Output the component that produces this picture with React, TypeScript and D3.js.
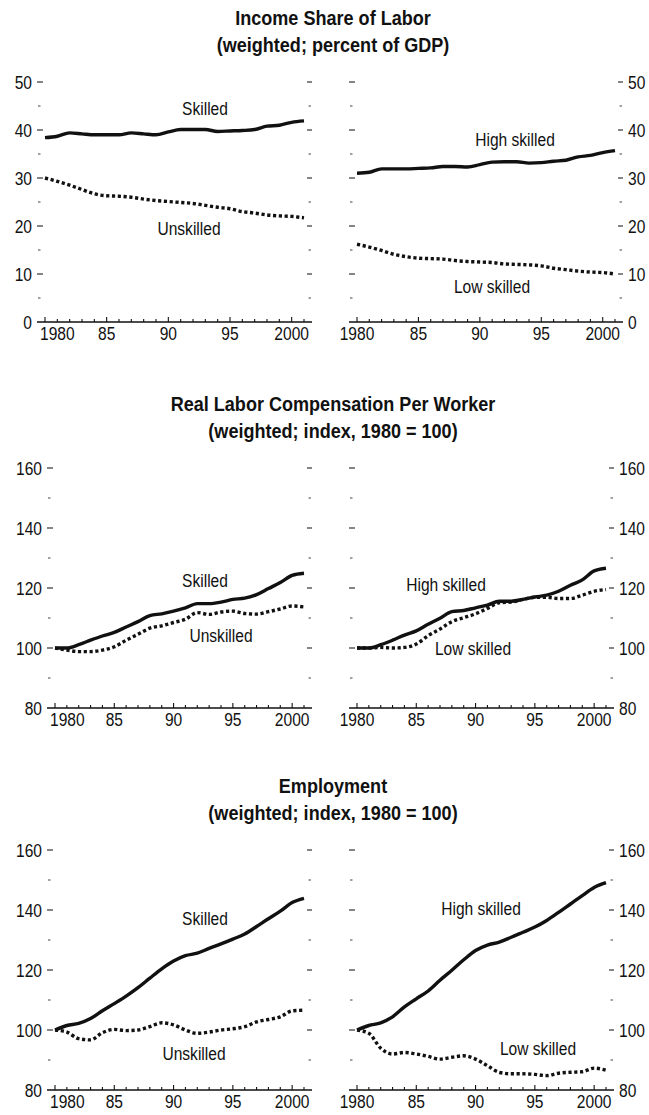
import * as d3 from "d3";
import React from "react";

const years = d3.range(1980, 2002);

// Income share of labor (percent of GDP)
const shareSkilled = [38.4, 38.7, 39.4, 39.2, 39.0, 39.0, 39.0, 39.4, 39.2, 39.0, 39.6, 40.1, 40.1, 40.1, 39.7, 39.8, 39.9, 40.1, 40.8, 41.0, 41.6, 41.9];
const shareUnskilled = [30.0, 29.3, 28.5, 27.6, 26.7, 26.3, 26.2, 26.0, 25.6, 25.3, 25.1, 24.9, 24.7, 24.3, 23.9, 23.6, 23.0, 22.7, 22.3, 22.1, 22.0, 21.7];
const shareHigh = [31.0, 31.2, 31.9, 31.9, 31.9, 32.0, 32.1, 32.4, 32.4, 32.3, 32.8, 33.3, 33.4, 33.4, 33.1, 33.2, 33.5, 33.7, 34.4, 34.7, 35.3, 35.7];
const shareLow = [16.2, 15.6, 14.9, 14.1, 13.6, 13.3, 13.2, 13.1, 12.8, 12.6, 12.5, 12.4, 12.1, 12.0, 11.9, 11.7, 11.2, 10.9, 10.6, 10.4, 10.3, 10.0];

// Real labor compensation per worker (1980 = 100)
const compSkilled = [100, 100, 101.1, 102.6, 104.0, 105.2, 107.0, 108.8, 110.8, 111.4, 112.3, 113.4, 114.8, 114.8, 115.3, 116.2, 116.6, 117.8, 119.8, 121.8, 124.2, 124.9];
const compUnskilled = [100, 99.3, 98.8, 98.8, 99.3, 100.4, 102.6, 104.6, 106.6, 107.4, 108.5, 109.6, 111.8, 111.2, 112.0, 112.3, 111.5, 111.3, 112.1, 113.0, 114.0, 113.7];
const compHigh = [100, 100, 101.1, 102.6, 104.3, 105.7, 107.9, 109.9, 112.1, 112.5, 113.4, 114.3, 115.6, 115.6, 116.2, 117.0, 117.6, 118.9, 120.9, 122.7, 125.7, 126.6];
const compLow = [100, 100, 100.2, 100, 100.2, 101.3, 104.1, 106.3, 108.8, 110.1, 111.4, 113.2, 115.1, 115.3, 116.2, 116.9, 116.9, 116.5, 116.5, 117.6, 118.9, 119.5];

// Employment (1980 = 100)
const empSkilled = [100, 101.5, 102.2, 103.8, 106.4, 108.8, 111.3, 114.1, 117.3, 120.4, 123.0, 124.8, 125.6, 127.2, 128.7, 130.3, 132.0, 134.5, 137.1, 139.6, 142.5, 143.9];
const empUnskilled = [100, 99.3, 97.1, 96.7, 99.1, 100.2, 99.8, 100, 101.1, 102.4, 101.7, 100, 98.9, 99.3, 100, 100.4, 101.1, 102.7, 103.5, 104.4, 106.4, 106.6];
const empHigh = [100, 101.5, 102.4, 104.4, 107.7, 110.4, 113.0, 116.6, 119.9, 123.4, 126.5, 128.3, 129.3, 130.9, 132.6, 134.3, 136.5, 139.2, 142.0, 144.8, 147.5, 149.1];
const empLow = [100, 98.9, 93.9, 92.0, 92.5, 92.0, 91.2, 90.3, 90.9, 91.4, 90.3, 88.1, 85.9, 85.4, 85.4, 85.2, 84.8, 85.6, 85.9, 86.1, 87.3, 86.6];

const titles = [
  ["Income Share of Labor", "(weighted; percent of GDP)"],
  ["Real Labor Compensation Per Worker", "(weighted; index, 1980 = 100)"],
  ["Employment", "(weighted; index, 1980 = 100)"],
];
const xLabels = [1980, 1985, 1990, 1995, 2000];

const FONT = "'Liberation Sans', Arial, Helvetica, sans-serif";
const SX = 0.82; // condense to mimic a narrow face

const rows = [
  {
    top: 82, yDomain: [0, 50], major: 10, title: titles[0],
    left: { x0: 37, x1: 312, solid: shareSkilled, dotted: shareUnskilled,
      labels: [{ t: "Skilled", x: 205, y: 115 }, { t: "Unskilled", x: 189, y: 235 }] },
    right: { x0: 349, x1: 623, solid: shareHigh, dotted: shareLow,
      labels: [{ t: "High skilled", x: 515, y: 146 }, { t: "Low skilled", x: 492, y: 293 }] },
  },
  {
    top: 468, yDomain: [80, 160], major: 20, title: titles[1],
    left: { x0: 47, x1: 312, solid: compSkilled, dotted: compUnskilled,
      labels: [{ t: "Skilled", x: 205, y: 587 }, { t: "Unskilled", x: 221, y: 642 }] },
    right: { x0: 349, x1: 614, solid: compHigh, dotted: compLow,
      labels: [{ t: "High skilled", x: 446, y: 591 }, { t: "Low skilled", x: 473, y: 655 }] },
  },
  {
    top: 850, yDomain: [80, 160], major: 20, title: titles[2],
    left: { x0: 47, x1: 312, solid: empSkilled, dotted: empUnskilled,
      labels: [{ t: "Skilled", x: 205, y: 925 }, { t: "Unskilled", x: 194, y: 1060 }] },
    right: { x0: 349, x1: 614, solid: empHigh, dotted: empLow,
      labels: [{ t: "High skilled", x: 481, y: 915 }, { t: "Low skilled", x: 538, y: 1055 }] },
  },
];

const PLOT_H = 240;

const T = ({ x, y, children, anchor = "middle", size = 19, bold = false, sx = SX, dy = 0 }) => (
  <text transform={`translate(${x},${y}) scale(${sx},1)`} dy={dy} textAnchor={anchor}
    fontFamily={FONT} fontSize={size} fontWeight={bold ? "bold" : "normal"} fill="#111">
    {children}
  </text>
);

const Panel = ({ p, row, side }) => {
  const bottom = row.top + PLOT_H;
  const x = d3.scaleLinear().domain([1980, 2001]).range([p.x0 + 8, p.x1 - 8]);
  const y = d3.scaleLinear().domain(row.yDomain).range([bottom, row.top]);
  const [lo, hi] = row.yDomain;
  const half = row.major / 2;
  const yTicks = d3.range(lo, hi + 0.001, half);
  const isMajor = v => Math.round((v - lo) / half) % 2 === 0;
  const line = d3.line().x((d, i) => x(years[i])).y(d => y(d)).curve(d3.curveMonotoneX);

  return (
    <g>
      {yTicks.filter(v => v !== lo).map(v => {
        const yy = y(v);
        return isMajor(v) ? (
          <g key={v}>
            <line x1={p.x0} x2={p.x0 + 6} y1={yy} y2={yy} stroke="#222" strokeWidth={1.1} />
            <line x1={p.x1 - 5} x2={p.x1} y1={yy} y2={yy} stroke="#222" strokeWidth={1.1} />
          </g>
        ) : (
          <g key={v}>
            <line x1={p.x0 + 1} x2={p.x0 + 3.5} y1={yy} y2={yy} stroke="#444" strokeWidth={1} />
            <line x1={p.x1 - 3.5} x2={p.x1 - 1} y1={yy} y2={yy} stroke="#444" strokeWidth={1} />
          </g>
        );
      })}
      {yTicks.filter(isMajor).map(v => (
        side === "left"
          ? <T key={"l" + v} x={p.x0 - 5} y={y(v) + 7} anchor="end">{v}</T>
          : <T key={"r" + v} x={p.x1 + 5} y={y(v) + 7} anchor="start">{v}</T>
      ))}
      <line x1={p.x0} x2={p.x1} y1={bottom} y2={bottom} stroke="#111" strokeWidth={1.3} />
      {years.map(yr => (
        <line key={yr} x1={x(yr)} x2={x(yr)} y1={bottom} y2={bottom - (yr % 5 === 0 ? 5 : 3)}
          stroke="#111" strokeWidth={1.1} />
      ))}
      {xLabels.map(yr => {
        const first = side === "left" && yr === 1980;
        return (
          <T key={yr} x={first ? x(yr) - 5 : x(yr)} y={bottom + 18} anchor={first ? "start" : "middle"}>
            {yr === 1980 || yr === 2000 ? yr : String(yr).slice(2)}
          </T>
        );
      })}
      <path d={line(p.solid)} fill="none" stroke="#111" strokeWidth={3.4} strokeLinejoin="round" />
      <path d={line(p.dotted)} fill="none" stroke="#111" strokeWidth={3.4} strokeDasharray="3.2,2.6" />
      {p.labels.map(l => (
        <T key={l.t} x={l.x} y={l.y}>{l.t}</T>
      ))}
    </g>
  );
};

export default function App() {
  return (
    <div style={{ position: "absolute", left: 0, top: 0 }}>
      <svg width={649} height={1115} style={{ display: "block", background: "#fff" }}>
        {rows.map((row, i) => (
          <g key={i}>
            <T x={333} y={row.top - 57} size={21} bold sx={0.86}>{row.title[0]}</T>
            <T x={333} y={row.top - 30} size={21} bold sx={0.86}>{row.title[1]}</T>
            <Panel p={row.left} row={row} side="left" />
            <Panel p={row.right} row={row} side="right" />
          </g>
        ))}
      </svg>
    </div>
  );
}
